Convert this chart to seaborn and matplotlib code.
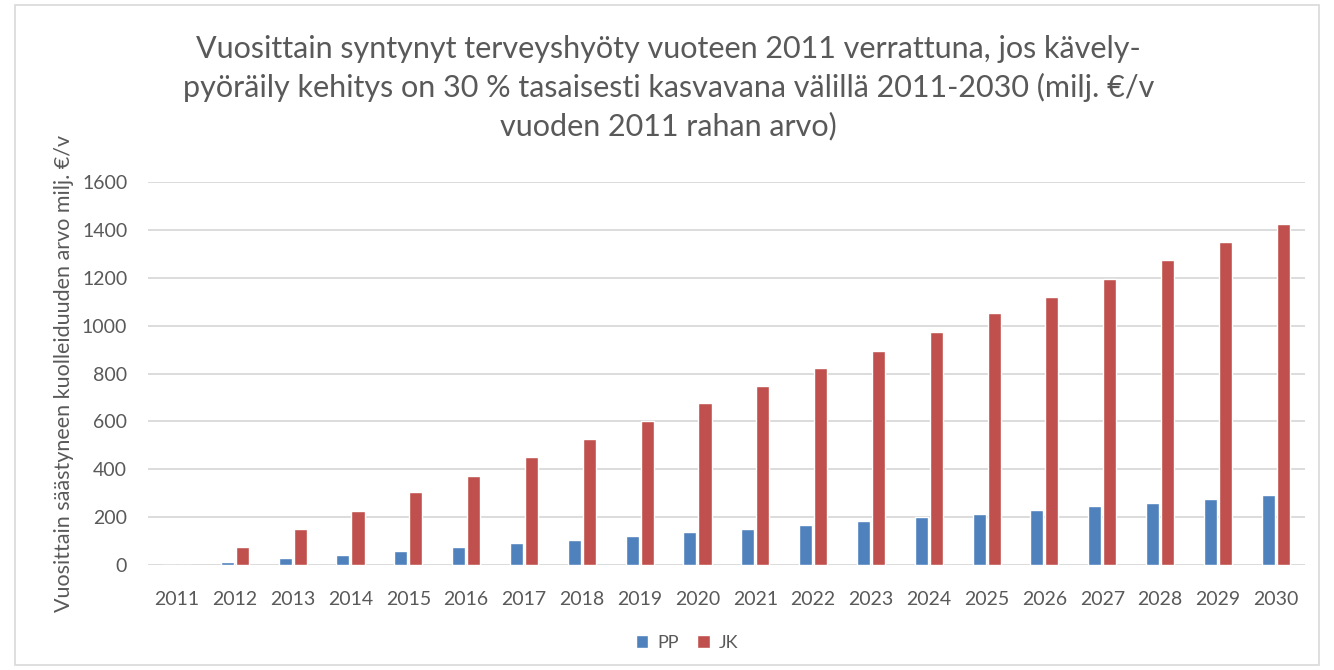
"""
Vuosittain syntynyt terveyshyöty (PP / JK) 2011-2030.
Output: out.png
"""

import matplotlib
matplotlib.use('Agg')
import matplotlib.pyplot as plt
import seaborn as sns
import pandas as pd
from matplotlib.patches import Rectangle

# Data
years = [str(y) for y in range(2011, 2031)]
pp_values = [0, 12, 28, 43, 58, 74, 90, 104, 120, 136,
             150, 167, 182, 198, 213, 228, 244, 259, 274, 290]
jk_values = [0, 74, 150, 227, 303, 371, 449, 525, 603, 678,
             747, 824, 896, 975, 1052, 1122, 1197, 1273, 1350, 1427]
series_names = ['PP', 'JK']
y_ticks = [0, 200, 400, 600, 800, 1000, 1200, 1400, 1600]

title = ('Vuosittain syntynyt terveyshyöty vuoteen 2011 verrattuna, jos kävely-\n'
         'pyöräily kehitys on 30 % tasaisesti kasvavana välillä 2011-2030 (milj. €/v\n'
         'vuoden 2011 rahan arvo)')
y_label = 'Vuosittain säästyneen kuolleiduuden arvo milj. €/v'

df = pd.DataFrame({
    'Vuosi': years * 2,
    'Sarja': ['PP'] * len(years) + ['JK'] * len(years),
    'Arvo': pp_values + jk_values,
})

sns.set_theme(style='white')
plt.rcParams['font.family'] = ['Lato', 'DejaVu Sans']

text_gray = '#595959'
grid_gray = '#D9D9D9'

fig = plt.figure(figsize=(13.34, 6.70), dpi=100)
ax = fig.add_axes([0.111, 0.157, 0.867, 0.571])

sns.barplot(data=df, x='Vuosi', y='Arvo', hue='Sarja', hue_order=series_names,
            palette={'PP': '#4F81BD', 'JK': '#C0504D'}, saturation=1,
            width=0.52, gap=0.13, ax=ax, legend=True)

ax.set_ylim(0, 1600)
ax.set_yticks(y_ticks)
ax.yaxis.grid(True, color=grid_gray, linewidth=1.3)
ax.set_axisbelow(True)
for s in ax.spines.values():
    s.set_visible(False)
ax.tick_params(axis='both', length=0, labelsize=14, colors=text_gray)
ax.tick_params(axis='y', pad=15)
ax.tick_params(axis='x', pad=19)
ax.set_xlabel('')
ax.set_ylabel(y_label, fontsize=15.5, color=text_gray, labelpad=6)

fig.text(0.501, 0.948, title, ha='center', va='top', fontsize=22,
         color=text_gray, linespacing=1.42)

ax.legend(loc='upper center', bbox_to_anchor=(0.466, -0.14), ncol=2,
          frameon=False, fontsize=13, handlelength=0.7, handleheight=0.7,
          handletextpad=0.5, columnspacing=1.0, labelcolor=text_gray)

# outer chart border
fig.patches.append(Rectangle((0.011, 0.008), 0.978, 0.985, transform=fig.transFigure,
                             fill=False, edgecolor=grid_gray, linewidth=1.2))

fig.savefig('out.png', dpi=100)
